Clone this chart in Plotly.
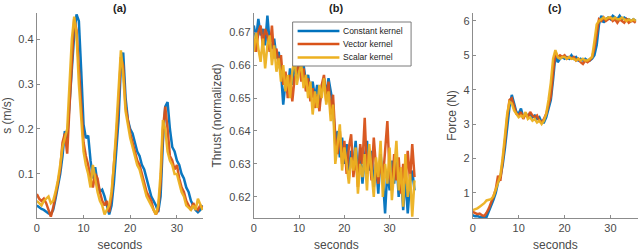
import plotly.graph_objects as go

# ---------------- data (sampled every 0.5 s) ----------------
step = 0.5

speed_constant = [0.03, 0.025, 0.022, 0.02, 0.015, 0.012, 0.01, 0.02, 0.045, 0.07, 0.1, 0.14, 0.195, 0.18,
                  0.26, 0.34, 0.41, 0.455, 0.44, 0.33, 0.21, 0.18, 0.185, 0.13, 0.09, 0.115, 0.08, 0.06,
                  0.065, 0.05, 0.03, 0.01, 0.03, 0.08, 0.15, 0.22, 0.34, 0.37, 0.27, 0.22, 0.2, 0.19,
                  0.17, 0.15, 0.14, 0.12, 0.11, 0.09, 0.07, 0.05, 0.04, 0.03, 0.015, 0.05, 0.17, 0.25,
                  0.26, 0.2, 0.16, 0.15, 0.13, 0.12, 0.1, 0.09, 0.07, 0.06, 0.04, 0.03, 0.02, 0.015, 0.02, 0.03]
speed_vector = [0.055, 0.045, 0.04, 0.045, 0.035, 0.02, 0.005, 0.025, 0.05, 0.08, 0.11, 0.17, 0.19, 0.145,
                0.25, 0.36, 0.445, 0.42, 0.33, 0.25, 0.17, 0.14, 0.12, 0.09, 0.07, 0.1, 0.09, 0.06,
                0.04, 0.03, 0.04, 0.015, 0.05, 0.12, 0.18, 0.26, 0.36, 0.34, 0.25, 0.22, 0.19, 0.17,
                0.15, 0.13, 0.12, 0.1, 0.08, 0.06, 0.05, 0.04, 0.02, 0.01, 0.02, 0.08, 0.2, 0.25,
                0.2, 0.14, 0.13, 0.11, 0.12, 0.09, 0.07, 0.06, 0.04, 0.03, 0.02, 0.035, 0.025, 0.02, 0.03, 0.025]
speed_scalar = [0.04, 0.035, 0.03, 0.04, 0.045, 0.05, 0.035, 0.04, 0.06, 0.085, 0.12, 0.16, 0.18, 0.2,
                0.3, 0.4, 0.45, 0.41, 0.3, 0.22, 0.15, 0.12, 0.1, 0.07, 0.12, 0.09, 0.06, 0.04,
                0.03, 0.01, 0.02, 0.03, 0.06, 0.12, 0.2, 0.3, 0.375, 0.32, 0.24, 0.21, 0.18, 0.16,
                0.14, 0.12, 0.11, 0.09, 0.07, 0.05, 0.04, 0.03, 0.02, 0.01, 0.03, 0.1, 0.22, 0.2,
                0.15, 0.13, 0.12, 0.1, 0.1, 0.08, 0.06, 0.05, 0.03, 0.025, 0.02, 0.03, 0.02, 0.045, 0.03, 0.02]

thrust_constant = [0.672, 0.668, 0.674, 0.669, 0.671, 0.666, 0.675, 0.667, 0.665, 0.668, 0.662, 0.664,
                   0.658, 0.648, 0.655, 0.652, 0.659, 0.654, 0.66, 0.656, 0.663, 0.659, 0.66, 0.655,
                   0.657, 0.652, 0.655, 0.65, 0.654, 0.648, 0.653, 0.656, 0.651, 0.656, 0.652, 0.648,
                   0.636, 0.64, 0.632, 0.638, 0.63, 0.636, 0.628, 0.634, 0.63, 0.637, 0.626, 0.635,
                   0.624, 0.632, 0.637, 0.628, 0.634, 0.623, 0.63, 0.621, 0.633, 0.626, 0.615, 0.628,
                   0.622, 0.631, 0.624, 0.632, 0.62, 0.628, 0.616, 0.626, 0.615, 0.624, 0.628, 0.622]
thrust_vector = [0.668, 0.664, 0.67, 0.672, 0.666, 0.671, 0.669, 0.664, 0.672, 0.662, 0.665, 0.66,
                 0.663, 0.654, 0.658, 0.65, 0.657, 0.649, 0.656, 0.658, 0.661, 0.655, 0.659, 0.652,
                 0.656, 0.649, 0.653, 0.647, 0.651, 0.646, 0.654, 0.657, 0.649, 0.655, 0.645, 0.651,
                 0.638, 0.633, 0.64, 0.63, 0.637, 0.627, 0.635, 0.639, 0.626, 0.633, 0.623, 0.636,
                 0.63, 0.644, 0.627, 0.634, 0.625, 0.638, 0.629, 0.624, 0.631, 0.625, 0.634, 0.643,
                 0.627, 0.622, 0.633, 0.625, 0.632, 0.621, 0.63, 0.624, 0.634, 0.625, 0.636, 0.626]
thrust_scalar = [0.664, 0.67, 0.665, 0.661, 0.668, 0.659, 0.666, 0.669, 0.66, 0.666, 0.658, 0.662,
                 0.655, 0.66, 0.652, 0.657, 0.65, 0.658, 0.662, 0.654, 0.658, 0.66, 0.653, 0.657,
                 0.65, 0.655, 0.645, 0.652, 0.647, 0.654, 0.65, 0.656, 0.648, 0.652, 0.643, 0.648,
                 0.63, 0.637, 0.642, 0.628, 0.635, 0.63, 0.624, 0.632, 0.628, 0.635, 0.621, 0.63,
                 0.626, 0.633, 0.622, 0.636, 0.628, 0.62, 0.632, 0.626, 0.637, 0.62, 0.63, 0.624,
                 0.635, 0.619, 0.628, 0.637, 0.622, 0.629, 0.617, 0.633, 0.62, 0.627, 0.614, 0.625]

force_constant = [0.35, 0.32, 0.33, 0.3, 0.3, 0.28, 0.3, 0.45, 0.6, 0.8, 1.0, 1.3, 1.45, 1.8, 2.3, 3.0,
                  3.5, 3.85, 3.6, 3.35, 3.3, 3.45, 3.2, 3.3, 3.25, 3.3, 3.2, 3.25, 3.15, 3.2, 3.05, 3.05,
                  3.2, 3.5, 3.7, 4.3, 5.0, 4.8, 4.9, 4.95, 4.9, 4.95, 4.9, 5.0, 4.9, 4.95, 4.85, 4.9,
                  4.85, 4.9, 4.85, 4.85, 4.9, 5.0, 5.3, 5.9, 6.15, 5.95, 6.05, 6.1, 6.05, 6.15, 6.1, 6.05,
                  6.15, 6.05, 6.1, 6.05, 6.05, 6.0, 6.05, 6.0]
force_vector = [0.45, 0.42, 0.38, 0.4, 0.35, 0.33, 0.42, 0.55, 0.7, 0.9, 1.1, 1.5, 1.35, 1.9, 2.5, 3.2,
                3.7, 3.75, 3.5, 3.3, 3.25, 3.35, 3.15, 3.3, 3.2, 3.35, 3.25, 3.2, 3.25, 3.1, 3.05, 3.15,
                3.3, 3.6, 3.8, 4.5, 5.1, 4.95, 5.0, 4.95, 5.0, 4.9, 4.95, 4.9, 4.95, 4.85, 4.9, 4.8,
                4.75, 4.85, 4.8, 4.85, 4.95, 5.2, 5.7, 6.05, 6.0, 6.1, 6.0, 6.05, 6.1, 6.0, 6.05, 5.95,
                6.05, 6.0, 5.95, 6.05, 5.95, 6.0, 6.0, 5.95]
force_scalar = [0.5, 0.52, 0.55, 0.6, 0.65, 0.7, 0.78, 0.8, 0.82, 0.9, 1.1, 1.3, 1.5, 2.0, 2.6, 3.3,
                3.65, 3.6, 3.4, 3.3, 3.2, 3.25, 3.2, 3.35, 3.15, 3.2, 3.1, 3.15, 3.05, 3.1, 3.0, 3.1,
                3.3, 3.7, 4.2, 4.9, 5.15, 4.95, 4.9, 4.95, 4.95, 4.9, 4.95, 4.9, 4.9, 4.85, 4.9, 4.85,
                4.9, 4.85, 4.85, 4.9, 4.95, 5.4, 5.9, 6.0, 6.05, 6.1, 6.05, 6.1, 6.1, 6.05, 6.1, 6.05,
                6.05, 6.1, 6.05, 6.0, 6.05, 6.0, 6.05, 6.0]

series_names = ["Constant kernel", "Vector kernel", "Scalar kernel"]
colors = ["#0072BD", "#D95319", "#EDB120"]

panel_titles = ["(a)", "(b)", "(c)"]
y_titles = ["s (m/s)", "Thrust (normalized)", "Force (N)"]
x_title = "seconds"
x_ticks = [0, 10, 20, 30]
y_ticks = [[0.1, 0.2, 0.3, 0.4],
           [0.62, 0.63, 0.64, 0.65, 0.66, 0.67],
           [1, 2, 3, 4, 5, 6]]
y_ranges = [[0.002, 0.458], [0.6136, 0.6758], [0.27, 6.23]]
x_ranges = [[0, 35.6], [0, 36.5], [0, 36]]

panels = [
    [speed_constant, speed_vector, speed_scalar],
    [thrust_constant, thrust_vector, thrust_scalar],
    [force_constant, force_vector, force_scalar],
]

# ---------------- figure ----------------
W, H = 640, 252
x_domains = [[34 / W, 201 / W], [252 / W, 418 / W], [472 / W, 638 / W]]
y_domain = [1 - 218 / H, 1 - 13 / H]

fig = go.Figure()
font_family = "Liberation Sans, Arial, sans-serif"
axis_gray = "#8c8c8c"
text_gray = "#4a4a4a"

for p, series in enumerate(panels):
    xa = "x" if p == 0 else f"x{p+1}"
    ya = "y" if p == 0 else f"y{p+1}"
    for s, vals in enumerate(series):
        t = [step * i for i in range(len(vals))]
        fig.add_trace(go.Scatter(
            x=t, y=vals, mode="lines", name=series_names[s],
            line=dict(color=colors[s], width=2.5),
            opacity=0.95,
            showlegend=False, xaxis=xa, yaxis=ya,
        ))
    axis_common = dict(showline=True, linecolor=axis_gray, linewidth=1, ticks="inside",
                       ticklen=3, tickcolor=axis_gray, showgrid=False, zeroline=False,
                       tickfont=dict(size=11, color=text_gray, family=font_family))
    xkey = "xaxis" if p == 0 else f"xaxis{p+1}"
    ykey = "yaxis" if p == 0 else f"yaxis{p+1}"
    fig.update_layout({
        xkey: dict(domain=x_domains[p], range=x_ranges[p], tickvals=x_ticks,
                   anchor=ya, title=dict(text=x_title, standoff=7,
                                         font=dict(size=12, color=text_gray, family=font_family)),
                   **axis_common),
        ykey: dict(domain=y_domain, range=y_ranges[p], tickvals=y_ticks[p],
                   anchor=xa, title=dict(text=y_titles[p], standoff=4,
                                         font=dict(size=12, color=text_gray, family=font_family)),
                   **axis_common),
    })
    xc = (x_domains[p][0] + x_domains[p][1]) / 2
    fig.add_annotation(text="<b>" + panel_titles[p] + "</b>", x=xc, y=1.0, xref="paper", yref="paper",
                       xanchor="center", yanchor="top", showarrow=False,
                       font=dict(size=11, color="#222222", family=font_family))

# ---------------- legend box (panel b) ----------------
lx0, lx1, ly0, ly1 = 291, 410, 22, 66
fig.add_shape(type="rect", xref="paper", yref="paper",
              x0=lx0 / W, x1=lx1 / W, y0=1 - ly1 / H, y1=1 - ly0 / H,
              line=dict(color="#7a7a7a", width=1), fillcolor="white", layer="above")
legend_rows = [31, 44, 57.5]
for s, name in enumerate(series_names):
    yy = 1 - legend_rows[s] / H
    fig.add_shape(type="line", xref="paper", yref="paper",
                  x0=296 / W, x1=338 / W, y0=yy, y1=yy,
                  line=dict(color=colors[s], width=2.5), layer="above")
    fig.add_annotation(text=name, x=340 / W, y=yy, xref="paper", yref="paper",
                       xanchor="left", yanchor="middle", showarrow=False,
                       font=dict(size=8.5, color="#222222", family=font_family))

fig.update_layout(
    width=W, height=H, margin=dict(l=0, r=0, t=0, b=0),
    paper_bgcolor="white", plot_bgcolor="white",
    showlegend=False,
)

fig.write_html("out.html", config={"displayModeBar": False},
               post_script="document.body.style.margin='0px';")
